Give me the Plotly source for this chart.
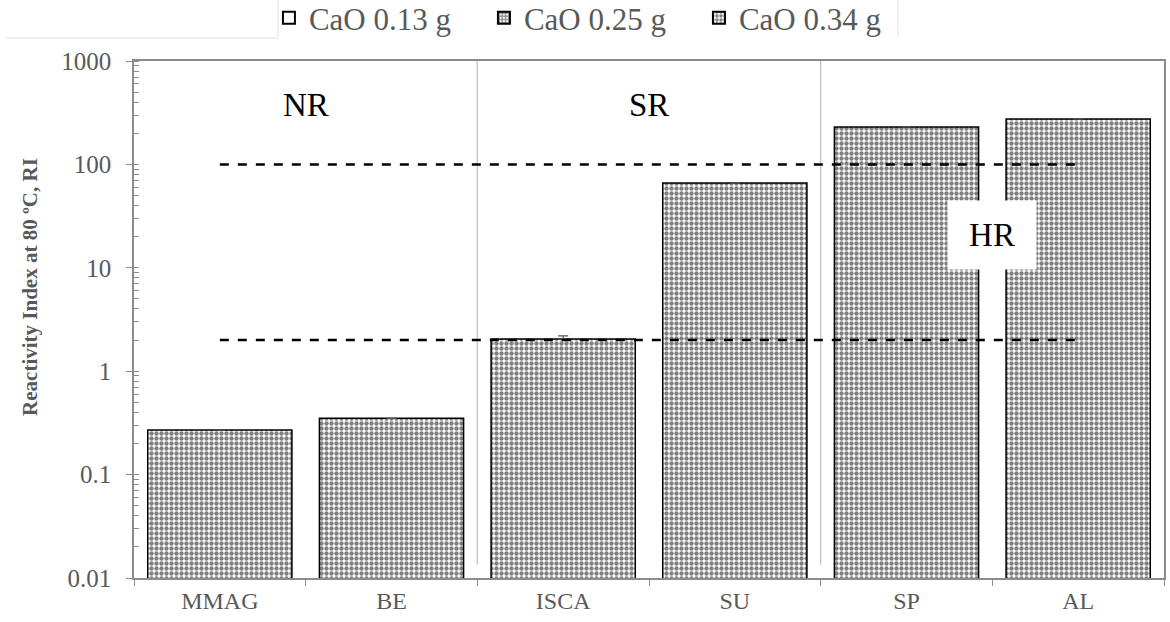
import plotly.graph_objects as go

# Reactivity index of each material (log scale)
categories = ["MMAG", "BE", "ISCA", "SU", "SP", "AL"]
ri_034 = [0.27, 0.35, 2.05, 66, 230, 275]
ri_034_err = [0, 0, 0.15, 0, 0, 0]
ri_013 = [None] * 6
ri_025 = [None] * 6

# Reactivity class thresholds and zone labels
thresholds = [2, 100]
zones = [("NR", 0.5, 2.57), ("SR", 2.5, 2.57)]

serif = "Liberation Serif, Times New Roman, serif"
grey_text = "#595959"
axis_grey = "#8c8c8c"

fig = go.Figure()

fig.add_trace(go.Bar(
    x=categories, y=ri_013, name="CaO 0.13 g",
    marker=dict(color="white", line=dict(color="black", width=1.5)),
))
fig.add_trace(go.Bar(
    x=categories, y=ri_025, name="CaO 0.25 g",
    marker=dict(color="white", line=dict(color="black", width=1.5),
                pattern=dict(shape="+", fgcolor="black", bgcolor="white",
                             size=4, solidity=0.6)),
))
fig.add_trace(go.Bar(
    x=categories, y=ri_034, name="CaO 0.34 g", width=0.84,
    marker=dict(color="white", line=dict(color="black", width=1.5),
                pattern=dict(shape=".", fgcolor="black", bgcolor="white",
                             size=5, solidity=0.6)),
    error_y=dict(type="data", array=ri_034_err, arrayminus=[0] * 6,
                 symmetric=False, color="#555555", thickness=1.2, width=5),
))

# Dashed threshold lines from the first to the last category centre
for t in thresholds:
    fig.add_shape(type="line", xref="x", yref="y", x0=0, x1=5, y0=t, y1=t,
                  line=dict(color="black", width=2.5, dash="dash"),
                  layer="above")

# Vertical separators between reactivity groups
for xb in [1.5, 3.5]:
    fig.add_shape(type="line", xref="x", yref="y", x0=xb, x1=xb,
                  y0=0.0134, y1=1000,
                  line=dict(color="#c8c8c8", width=1.5), layer="below")

for label, xc, ylog in zones:
    fig.add_annotation(x=xc, y=ylog, xref="x", yref="y", text=label,
                       showarrow=False,
                       font=dict(family=serif, size=33, color="black"))

fig.add_annotation(x=4.5, y=1.317, xref="x", yref="y", text="HR",
                   showarrow=False, bgcolor="white", width=86, height=66,
                   font=dict(family=serif, size=33, color="black"))

# Y-axis title, placed slightly above the axis middle
fig.add_annotation(x=-0.101, y=0.563, xref="paper", yref="paper",
                   xanchor="center", yanchor="middle",
                   text="<b>Reactivity Index at 80 ºC, RI</b>", textangle=-90,
                   showarrow=False,
                   font=dict(family=serif, size=21, color=grey_text))

# Faint legend frame lines
fig.add_shape(type="line", xref="paper", yref="paper",
              x0=-0.125, x1=0.1398, y0=1.0445, y1=1.0445,
              line=dict(color="#e2e2e2", width=1))
for xp in [0.1398, 0.7417]:
    fig.add_shape(type="line", xref="paper", yref="paper",
                  x0=xp, x1=xp, y0=1.0445, y1=1.118,
                  line=dict(color="#e2e2e2", width=1))

fig.update_layout(
    width=1170, height=622,
    margin=dict(l=134, r=6, t=61, b=44, autoexpand=False),
    paper_bgcolor="white", plot_bgcolor="white",
    barmode="overlay",
    showlegend=True,
    legend=dict(orientation="h", x=0.131, xanchor="left", y=1.135,
                yanchor="top", font=dict(family=serif, size=31,
                                         color=grey_text),
                itemsizing="constant", traceorder="normal",
                bgcolor="rgba(0,0,0,0)", itemwidth=30,
                entrywidth=170, entrywidthmode="pixels"),
    font=dict(family=serif, color=grey_text),
)

fig.update_xaxes(
    range=[-0.5, 5.5], showline=True, linecolor=axis_grey, linewidth=1.5,
    mirror=True, ticks="outside", tickson="boundaries", ticklen=6,
    tickcolor=axis_grey, tickfont=dict(family=serif, size=24,
                                       color=grey_text),
    showgrid=False, zeroline=False,
)

fig.update_yaxes(
    type="log", range=[-2, 3], showline=True, linecolor=axis_grey,
    linewidth=1.5, mirror=True, ticks="outside", ticklen=6,
    tickcolor=axis_grey, tickvals=[0.01, 0.1, 1, 10, 100, 1000],
    ticktext=["0.01", "0.1", "1", "10", "100", "1000"],
    tickfont=dict(family=serif, size=25, color=grey_text),
    ticklabelstandoff=10,
    minor=dict(ticks="inside", ticklen=5, tickcolor=axis_grey, dtick="D1",
               showgrid=False),
    showgrid=False, zeroline=False,
)

fig.write_html("out.html")
